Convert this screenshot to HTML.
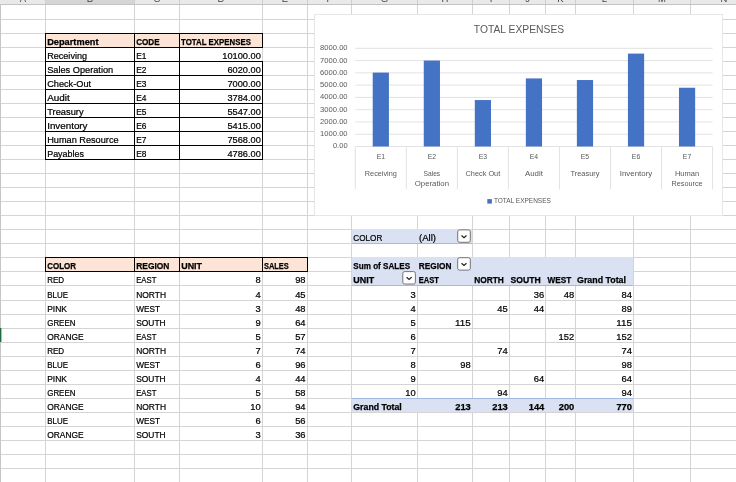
<!DOCTYPE html>
<html lang="en"><head><meta charset="utf-8"><title>Sheet</title>
<style>
html,body{margin:0;padding:0;background:#fff;overflow:hidden}
svg{display:block;font-family:"Liberation Sans",sans-serif}
text{white-space:pre}
</style></head><body>
<svg width="736" height="482" viewBox="0 0 736 482">
<defs><clipPath id="hdrclip"><rect x="0" y="0" width="736" height="4"/></clipPath></defs>
<rect x="0" y="0" width="736" height="482" fill="#fff"/>
<rect x="0" y="19" width="736" height="1" fill="#d4d4d4"/>
<rect x="0" y="33" width="736" height="1" fill="#d4d4d4"/>
<rect x="0" y="47" width="736" height="1" fill="#d4d4d4"/>
<rect x="0" y="61" width="736" height="1" fill="#d4d4d4"/>
<rect x="0" y="75" width="736" height="1" fill="#d4d4d4"/>
<rect x="0" y="89" width="736" height="1" fill="#d4d4d4"/>
<rect x="0" y="103" width="736" height="1" fill="#d4d4d4"/>
<rect x="0" y="117" width="736" height="1" fill="#d4d4d4"/>
<rect x="0" y="131" width="736" height="1" fill="#d4d4d4"/>
<rect x="0" y="145" width="736" height="1" fill="#d4d4d4"/>
<rect x="0" y="159" width="736" height="1" fill="#d4d4d4"/>
<rect x="0" y="173" width="736" height="1" fill="#d4d4d4"/>
<rect x="0" y="187" width="736" height="1" fill="#d4d4d4"/>
<rect x="0" y="201" width="736" height="1" fill="#d4d4d4"/>
<rect x="0" y="215" width="736" height="1" fill="#d4d4d4"/>
<rect x="0" y="229" width="736" height="1" fill="#d4d4d4"/>
<rect x="0" y="243" width="736" height="1" fill="#d4d4d4"/>
<rect x="0" y="257" width="736" height="1" fill="#d4d4d4"/>
<rect x="0" y="271" width="736" height="1" fill="#d4d4d4"/>
<rect x="0" y="285" width="736" height="1" fill="#d4d4d4"/>
<rect x="0" y="300" width="736" height="1" fill="#d4d4d4"/>
<rect x="0" y="314" width="736" height="1" fill="#d4d4d4"/>
<rect x="0" y="328" width="736" height="1" fill="#d4d4d4"/>
<rect x="0" y="342" width="736" height="1" fill="#d4d4d4"/>
<rect x="0" y="356" width="736" height="1" fill="#d4d4d4"/>
<rect x="0" y="370" width="736" height="1" fill="#d4d4d4"/>
<rect x="0" y="384" width="736" height="1" fill="#d4d4d4"/>
<rect x="0" y="398" width="736" height="1" fill="#d4d4d4"/>
<rect x="0" y="412" width="736" height="1" fill="#d4d4d4"/>
<rect x="0" y="426" width="736" height="1" fill="#d4d4d4"/>
<rect x="0" y="440" width="736" height="1" fill="#d4d4d4"/>
<rect x="0" y="454" width="736" height="1" fill="#d4d4d4"/>
<rect x="0" y="468" width="736" height="1" fill="#d4d4d4"/>
<rect x="0" y="482" width="736" height="1" fill="#d4d4d4"/>
<rect x="45" y="4" width="1" height="478" fill="#d4d4d4"/>
<rect x="134" y="4" width="1" height="478" fill="#d4d4d4"/>
<rect x="179" y="4" width="1" height="478" fill="#d4d4d4"/>
<rect x="262" y="4" width="1" height="478" fill="#d4d4d4"/>
<rect x="307" y="4" width="1" height="478" fill="#d4d4d4"/>
<rect x="351" y="4" width="1" height="478" fill="#d4d4d4"/>
<rect x="417" y="4" width="1" height="478" fill="#d4d4d4"/>
<rect x="472" y="4" width="1" height="478" fill="#d4d4d4"/>
<rect x="509" y="4" width="1" height="478" fill="#d4d4d4"/>
<rect x="545" y="4" width="1" height="478" fill="#d4d4d4"/>
<rect x="575" y="4" width="1" height="478" fill="#d4d4d4"/>
<rect x="633" y="4" width="1" height="478" fill="#d4d4d4"/>
<rect x="690" y="4" width="1" height="478" fill="#d4d4d4"/>
<rect x="0" y="0" width="736" height="4" fill="#e9e9e9"/>
<rect x="45" y="0" width="90" height="4" fill="#d5d5d5"/>
<rect x="0" y="4" width="736" height="1" fill="#c4c4c4"/>
<rect x="45" y="0" width="1" height="4" fill="#cfcfcf"/>
<rect x="134" y="0" width="1" height="4" fill="#cfcfcf"/>
<rect x="179" y="0" width="1" height="4" fill="#cfcfcf"/>
<rect x="262" y="0" width="1" height="4" fill="#cfcfcf"/>
<rect x="307" y="0" width="1" height="4" fill="#cfcfcf"/>
<rect x="351" y="0" width="1" height="4" fill="#cfcfcf"/>
<rect x="417" y="0" width="1" height="4" fill="#cfcfcf"/>
<rect x="472" y="0" width="1" height="4" fill="#cfcfcf"/>
<rect x="509" y="0" width="1" height="4" fill="#cfcfcf"/>
<rect x="545" y="0" width="1" height="4" fill="#cfcfcf"/>
<rect x="575" y="0" width="1" height="4" fill="#cfcfcf"/>
<rect x="633" y="0" width="1" height="4" fill="#cfcfcf"/>
<rect x="690" y="0" width="1" height="4" fill="#cfcfcf"/>
<g clip-path="url(#hdrclip)" font-size="9.5" fill="#444">
<text x="23.0" y="2.2" text-anchor="middle">A</text>
<text x="90.0" y="2.2" text-anchor="middle">B</text>
<text x="157.0" y="2.2" text-anchor="middle">C</text>
<text x="221.0" y="2.2" text-anchor="middle">D</text>
<text x="285.0" y="2.2" text-anchor="middle">E</text>
<text x="329.5" y="2.2" text-anchor="middle">F</text>
<text x="384.5" y="2.2" text-anchor="middle">G</text>
<text x="445.0" y="2.2" text-anchor="middle">H</text>
<text x="491.0" y="2.2" text-anchor="middle">I</text>
<text x="527.5" y="2.2" text-anchor="middle">J</text>
<text x="560.5" y="2.2" text-anchor="middle">K</text>
<text x="604.5" y="2.2" text-anchor="middle">L</text>
<text x="662.0" y="2.2" text-anchor="middle">M</text>
<text x="724.0" y="2.2" text-anchor="middle">N</text>
</g>
<rect x="0" y="4" width="1" height="478" fill="#c6c6c6"/>
<rect x="0" y="328" width="1.4" height="14" fill="#1e6b41"/>
<rect x="45" y="33" width="218" height="14" fill="#fce4d6"/>
<rect x="45" y="33" width="218" height="1" fill="#000"/>
<rect x="45" y="47" width="218" height="1" fill="#000"/>
<rect x="45" y="61" width="218" height="1" fill="#000"/>
<rect x="45" y="75" width="218" height="1" fill="#000"/>
<rect x="45" y="89" width="218" height="1" fill="#000"/>
<rect x="45" y="103" width="218" height="1" fill="#000"/>
<rect x="45" y="117" width="218" height="1" fill="#000"/>
<rect x="45" y="131" width="218" height="1" fill="#000"/>
<rect x="45" y="145" width="218" height="1" fill="#000"/>
<rect x="45" y="159" width="218" height="1" fill="#000"/>
<rect x="45" y="33" width="1" height="127" fill="#000"/>
<rect x="134" y="33" width="1" height="127" fill="#000"/>
<rect x="179" y="33" width="1" height="127" fill="#000"/>
<rect x="262" y="33" width="1" height="15" fill="#000"/>
<rect x="262" y="61" width="1" height="99" fill="#000"/>
<text x="47.20" y="44.80" font-size="9.2" font-weight="700" stroke="#000" stroke-width="0.25" fill="#000" textLength="51.30" lengthAdjust="spacingAndGlyphs">Department</text>
<text x="136.20" y="44.80" font-size="9.2" font-weight="700" stroke="#000" stroke-width="0.25" fill="#000" textLength="23.43" lengthAdjust="spacingAndGlyphs">CODE</text>
<text x="181.10" y="44.80" font-size="9.2" font-weight="700" stroke="#000" stroke-width="0.25" fill="#000" textLength="69.80" lengthAdjust="spacingAndGlyphs">TOTAL EXPENSES</text>
<text x="47.20" y="58.80" font-size="9.2" stroke="#000" stroke-width="0.22" fill="#000" textLength="39.84" lengthAdjust="spacingAndGlyphs">Receiving</text>
<text x="136.20" y="58.80" font-size="9.2" stroke="#000" stroke-width="0.22" fill="#000" textLength="10.25" lengthAdjust="spacingAndGlyphs">E1</text>
<text x="222.25" y="58.80" font-size="9.2" stroke="#000" stroke-width="0.22" fill="#000" textLength="38.55" lengthAdjust="spacingAndGlyphs">10100.00</text>
<text x="47.20" y="72.80" font-size="9.2" stroke="#000" stroke-width="0.22" fill="#000" textLength="66.03" lengthAdjust="spacingAndGlyphs">Sales Operation</text>
<text x="136.20" y="72.80" font-size="9.2" stroke="#000" stroke-width="0.22" fill="#000" textLength="10.25" lengthAdjust="spacingAndGlyphs">E2</text>
<text x="227.47" y="72.80" font-size="9.2" stroke="#000" stroke-width="0.22" fill="#000" textLength="33.33" lengthAdjust="spacingAndGlyphs">6020.00</text>
<text x="47.20" y="86.80" font-size="9.2" stroke="#000" stroke-width="0.22" fill="#000" textLength="43.90" lengthAdjust="spacingAndGlyphs">Check-Out</text>
<text x="136.20" y="86.80" font-size="9.2" stroke="#000" stroke-width="0.22" fill="#000" textLength="10.25" lengthAdjust="spacingAndGlyphs">E3</text>
<text x="227.47" y="86.80" font-size="9.2" stroke="#000" stroke-width="0.22" fill="#000" textLength="33.33" lengthAdjust="spacingAndGlyphs">7000.00</text>
<text x="47.20" y="100.80" font-size="9.2" stroke="#000" stroke-width="0.22" fill="#000" textLength="22.59" lengthAdjust="spacingAndGlyphs">Audit</text>
<text x="136.20" y="100.80" font-size="9.2" stroke="#000" stroke-width="0.22" fill="#000" textLength="10.25" lengthAdjust="spacingAndGlyphs">E4</text>
<text x="227.47" y="100.80" font-size="9.2" stroke="#000" stroke-width="0.22" fill="#000" textLength="33.33" lengthAdjust="spacingAndGlyphs">3784.00</text>
<text x="47.20" y="114.80" font-size="9.2" stroke="#000" stroke-width="0.22" fill="#000" textLength="36.37" lengthAdjust="spacingAndGlyphs">Treasury</text>
<text x="136.20" y="114.80" font-size="9.2" stroke="#000" stroke-width="0.22" fill="#000" textLength="10.25" lengthAdjust="spacingAndGlyphs">E5</text>
<text x="227.47" y="114.80" font-size="9.2" stroke="#000" stroke-width="0.22" fill="#000" textLength="33.33" lengthAdjust="spacingAndGlyphs">5547.00</text>
<text x="47.20" y="128.80" font-size="9.2" stroke="#000" stroke-width="0.22" fill="#000" textLength="40.33" lengthAdjust="spacingAndGlyphs">Inventory</text>
<text x="136.20" y="128.80" font-size="9.2" stroke="#000" stroke-width="0.22" fill="#000" textLength="10.25" lengthAdjust="spacingAndGlyphs">E6</text>
<text x="227.47" y="128.80" font-size="9.2" stroke="#000" stroke-width="0.22" fill="#000" textLength="33.33" lengthAdjust="spacingAndGlyphs">5415.00</text>
<text x="47.20" y="142.80" font-size="9.2" stroke="#000" stroke-width="0.22" fill="#000" textLength="71.39" lengthAdjust="spacingAndGlyphs">Human Resource</text>
<text x="136.20" y="142.80" font-size="9.2" stroke="#000" stroke-width="0.22" fill="#000" textLength="10.25" lengthAdjust="spacingAndGlyphs">E7</text>
<text x="227.47" y="142.80" font-size="9.2" stroke="#000" stroke-width="0.22" fill="#000" textLength="33.33" lengthAdjust="spacingAndGlyphs">7568.00</text>
<text x="47.20" y="156.80" font-size="9.2" stroke="#000" stroke-width="0.22" fill="#000" textLength="36.78" lengthAdjust="spacingAndGlyphs">Payables</text>
<text x="136.20" y="156.80" font-size="9.2" stroke="#000" stroke-width="0.22" fill="#000" textLength="10.25" lengthAdjust="spacingAndGlyphs">E8</text>
<text x="227.47" y="156.80" font-size="9.2" stroke="#000" stroke-width="0.22" fill="#000" textLength="33.33" lengthAdjust="spacingAndGlyphs">4786.00</text>
<rect x="45" y="257" width="263" height="14" fill="#fce4d6"/>
<rect x="45" y="257" width="263" height="1" fill="#000"/>
<rect x="45" y="271" width="263" height="1" fill="#000"/>
<rect x="45" y="257" width="1" height="15" fill="#000"/>
<rect x="134" y="257" width="1" height="15" fill="#000"/>
<rect x="179" y="257" width="1" height="15" fill="#000"/>
<rect x="262" y="257" width="1" height="15" fill="#000"/>
<rect x="307" y="257" width="1" height="15" fill="#000"/>
<text x="47.20" y="268.80" font-size="9.2" font-weight="700" stroke="#000" stroke-width="0.25" fill="#000" textLength="28.80" lengthAdjust="spacingAndGlyphs">COLOR</text>
<text x="136.20" y="268.80" font-size="9.2" font-weight="700" stroke="#000" stroke-width="0.25" fill="#000" textLength="33.20" lengthAdjust="spacingAndGlyphs">REGION</text>
<text x="181.20" y="268.80" font-size="9.2" font-weight="700" stroke="#000" stroke-width="0.25" fill="#000" textLength="20.80" lengthAdjust="spacingAndGlyphs">UNIT</text>
<text x="264.00" y="268.80" font-size="9.2" font-weight="700" stroke="#000" stroke-width="0.25" fill="#000" textLength="24.80" lengthAdjust="spacingAndGlyphs">SALES</text>
<text x="47.20" y="282.80" font-size="9.2" stroke="#000" stroke-width="0.22" fill="#000" textLength="17.00" lengthAdjust="spacingAndGlyphs">RED</text>
<text x="136.20" y="282.80" font-size="9.2" stroke="#000" stroke-width="0.22" fill="#000" textLength="20.20" lengthAdjust="spacingAndGlyphs">EAST</text>
<text x="255.58" y="282.80" font-size="9.2" stroke="#000" stroke-width="0.22" fill="#000" textLength="5.22" lengthAdjust="spacingAndGlyphs">8</text>
<text x="295.16" y="282.80" font-size="9.2" stroke="#000" stroke-width="0.22" fill="#000" textLength="10.44" lengthAdjust="spacingAndGlyphs">98</text>
<text x="47.20" y="297.80" font-size="9.2" stroke="#000" stroke-width="0.22" fill="#000" textLength="20.80" lengthAdjust="spacingAndGlyphs">BLUE</text>
<text x="136.20" y="297.80" font-size="9.2" stroke="#000" stroke-width="0.22" fill="#000" textLength="29.80" lengthAdjust="spacingAndGlyphs">NORTH</text>
<text x="255.58" y="297.80" font-size="9.2" stroke="#000" stroke-width="0.22" fill="#000" textLength="5.22" lengthAdjust="spacingAndGlyphs">4</text>
<text x="295.16" y="297.80" font-size="9.2" stroke="#000" stroke-width="0.22" fill="#000" textLength="10.44" lengthAdjust="spacingAndGlyphs">45</text>
<text x="47.20" y="311.80" font-size="9.2" stroke="#000" stroke-width="0.22" fill="#000" textLength="19.80" lengthAdjust="spacingAndGlyphs">PINK</text>
<text x="136.20" y="311.80" font-size="9.2" stroke="#000" stroke-width="0.22" fill="#000" textLength="23.80" lengthAdjust="spacingAndGlyphs">WEST</text>
<text x="255.58" y="311.80" font-size="9.2" stroke="#000" stroke-width="0.22" fill="#000" textLength="5.22" lengthAdjust="spacingAndGlyphs">3</text>
<text x="295.16" y="311.80" font-size="9.2" stroke="#000" stroke-width="0.22" fill="#000" textLength="10.44" lengthAdjust="spacingAndGlyphs">48</text>
<text x="47.20" y="325.80" font-size="9.2" stroke="#000" stroke-width="0.22" fill="#000" textLength="28.30" lengthAdjust="spacingAndGlyphs">GREEN</text>
<text x="136.20" y="325.80" font-size="9.2" stroke="#000" stroke-width="0.22" fill="#000" textLength="29.40" lengthAdjust="spacingAndGlyphs">SOUTH</text>
<text x="255.58" y="325.80" font-size="9.2" stroke="#000" stroke-width="0.22" fill="#000" textLength="5.22" lengthAdjust="spacingAndGlyphs">9</text>
<text x="295.16" y="325.80" font-size="9.2" stroke="#000" stroke-width="0.22" fill="#000" textLength="10.44" lengthAdjust="spacingAndGlyphs">64</text>
<text x="47.20" y="339.80" font-size="9.2" stroke="#000" stroke-width="0.22" fill="#000" textLength="36.55" lengthAdjust="spacingAndGlyphs">ORANGE</text>
<text x="136.20" y="339.80" font-size="9.2" stroke="#000" stroke-width="0.22" fill="#000" textLength="20.20" lengthAdjust="spacingAndGlyphs">EAST</text>
<text x="255.58" y="339.80" font-size="9.2" stroke="#000" stroke-width="0.22" fill="#000" textLength="5.22" lengthAdjust="spacingAndGlyphs">5</text>
<text x="295.16" y="339.80" font-size="9.2" stroke="#000" stroke-width="0.22" fill="#000" textLength="10.44" lengthAdjust="spacingAndGlyphs">57</text>
<text x="47.20" y="353.80" font-size="9.2" stroke="#000" stroke-width="0.22" fill="#000" textLength="17.00" lengthAdjust="spacingAndGlyphs">RED</text>
<text x="136.20" y="353.80" font-size="9.2" stroke="#000" stroke-width="0.22" fill="#000" textLength="29.80" lengthAdjust="spacingAndGlyphs">NORTH</text>
<text x="255.58" y="353.80" font-size="9.2" stroke="#000" stroke-width="0.22" fill="#000" textLength="5.22" lengthAdjust="spacingAndGlyphs">7</text>
<text x="295.16" y="353.80" font-size="9.2" stroke="#000" stroke-width="0.22" fill="#000" textLength="10.44" lengthAdjust="spacingAndGlyphs">74</text>
<text x="47.20" y="367.80" font-size="9.2" stroke="#000" stroke-width="0.22" fill="#000" textLength="20.80" lengthAdjust="spacingAndGlyphs">BLUE</text>
<text x="136.20" y="367.80" font-size="9.2" stroke="#000" stroke-width="0.22" fill="#000" textLength="23.80" lengthAdjust="spacingAndGlyphs">WEST</text>
<text x="255.58" y="367.80" font-size="9.2" stroke="#000" stroke-width="0.22" fill="#000" textLength="5.22" lengthAdjust="spacingAndGlyphs">6</text>
<text x="295.16" y="367.80" font-size="9.2" stroke="#000" stroke-width="0.22" fill="#000" textLength="10.44" lengthAdjust="spacingAndGlyphs">96</text>
<text x="47.20" y="381.80" font-size="9.2" stroke="#000" stroke-width="0.22" fill="#000" textLength="19.80" lengthAdjust="spacingAndGlyphs">PINK</text>
<text x="136.20" y="381.80" font-size="9.2" stroke="#000" stroke-width="0.22" fill="#000" textLength="29.40" lengthAdjust="spacingAndGlyphs">SOUTH</text>
<text x="255.58" y="381.80" font-size="9.2" stroke="#000" stroke-width="0.22" fill="#000" textLength="5.22" lengthAdjust="spacingAndGlyphs">4</text>
<text x="295.16" y="381.80" font-size="9.2" stroke="#000" stroke-width="0.22" fill="#000" textLength="10.44" lengthAdjust="spacingAndGlyphs">44</text>
<text x="47.20" y="395.80" font-size="9.2" stroke="#000" stroke-width="0.22" fill="#000" textLength="28.30" lengthAdjust="spacingAndGlyphs">GREEN</text>
<text x="136.20" y="395.80" font-size="9.2" stroke="#000" stroke-width="0.22" fill="#000" textLength="20.20" lengthAdjust="spacingAndGlyphs">EAST</text>
<text x="255.58" y="395.80" font-size="9.2" stroke="#000" stroke-width="0.22" fill="#000" textLength="5.22" lengthAdjust="spacingAndGlyphs">5</text>
<text x="295.16" y="395.80" font-size="9.2" stroke="#000" stroke-width="0.22" fill="#000" textLength="10.44" lengthAdjust="spacingAndGlyphs">58</text>
<text x="47.20" y="409.80" font-size="9.2" stroke="#000" stroke-width="0.22" fill="#000" textLength="36.55" lengthAdjust="spacingAndGlyphs">ORANGE</text>
<text x="136.20" y="409.80" font-size="9.2" stroke="#000" stroke-width="0.22" fill="#000" textLength="29.80" lengthAdjust="spacingAndGlyphs">NORTH</text>
<text x="250.36" y="409.80" font-size="9.2" stroke="#000" stroke-width="0.22" fill="#000" textLength="10.44" lengthAdjust="spacingAndGlyphs">10</text>
<text x="295.16" y="409.80" font-size="9.2" stroke="#000" stroke-width="0.22" fill="#000" textLength="10.44" lengthAdjust="spacingAndGlyphs">94</text>
<text x="47.20" y="423.80" font-size="9.2" stroke="#000" stroke-width="0.22" fill="#000" textLength="20.80" lengthAdjust="spacingAndGlyphs">BLUE</text>
<text x="136.20" y="423.80" font-size="9.2" stroke="#000" stroke-width="0.22" fill="#000" textLength="23.80" lengthAdjust="spacingAndGlyphs">WEST</text>
<text x="255.58" y="423.80" font-size="9.2" stroke="#000" stroke-width="0.22" fill="#000" textLength="5.22" lengthAdjust="spacingAndGlyphs">6</text>
<text x="295.16" y="423.80" font-size="9.2" stroke="#000" stroke-width="0.22" fill="#000" textLength="10.44" lengthAdjust="spacingAndGlyphs">56</text>
<text x="47.20" y="437.80" font-size="9.2" stroke="#000" stroke-width="0.22" fill="#000" textLength="36.55" lengthAdjust="spacingAndGlyphs">ORANGE</text>
<text x="136.20" y="437.80" font-size="9.2" stroke="#000" stroke-width="0.22" fill="#000" textLength="29.40" lengthAdjust="spacingAndGlyphs">SOUTH</text>
<text x="255.58" y="437.80" font-size="9.2" stroke="#000" stroke-width="0.22" fill="#000" textLength="5.22" lengthAdjust="spacingAndGlyphs">3</text>
<text x="295.16" y="437.80" font-size="9.2" stroke="#000" stroke-width="0.22" fill="#000" textLength="10.44" lengthAdjust="spacingAndGlyphs">36</text>
<rect x="352" y="229" width="120" height="14" fill="#d9e1f2"/>
<rect x="352" y="243" width="120" height="1" fill="#a3b9e2"/>
<rect x="352" y="257" width="281" height="28" fill="#d9e1f2"/>
<rect x="352" y="285" width="281" height="1" fill="#a3b9e2"/>
<rect x="352" y="399" width="281" height="13" fill="#d9e1f2"/>
<rect x="352" y="398" width="281" height="1" fill="#a3b9e2"/>
<text x="353.30" y="240.80" font-size="9.2" stroke="#000" stroke-width="0.22" fill="#000" textLength="29.00" lengthAdjust="spacingAndGlyphs">COLOR</text>
<text x="419.00" y="240.80" font-size="9.2" stroke="#000" stroke-width="0.22" fill="#000" textLength="17.00" lengthAdjust="spacingAndGlyphs">(All)</text>
<rect x="457.7" y="229.9" width="12.6" height="12.4" rx="1.8" fill="#fff" stroke="#666" stroke-width="0.9"/>
<path d="M461.5 235.5 l2.5 2.2 l2.5 -2.2" fill="none" stroke="#222" stroke-width="1.25"/>
<text x="353.30" y="268.80" font-size="9.2" font-weight="700" stroke="#000" stroke-width="0.25" fill="#000" textLength="56.80" lengthAdjust="spacingAndGlyphs">Sum of SALES</text>
<text x="418.80" y="268.80" font-size="9.2" font-weight="700" stroke="#000" stroke-width="0.25" fill="#000" textLength="32.60" lengthAdjust="spacingAndGlyphs">REGION</text>
<rect x="457.7" y="257.7" width="12.6" height="12.4" rx="1.8" fill="#fff" stroke="#666" stroke-width="0.9"/>
<path d="M461.5 263.3 l2.5 2.2 l2.5 -2.2" fill="none" stroke="#222" stroke-width="1.25"/>
<text x="353.30" y="282.80" font-size="9.2" font-weight="700" stroke="#000" stroke-width="0.25" fill="#000" textLength="20.80" lengthAdjust="spacingAndGlyphs">UNIT</text>
<rect x="402.8" y="271.6" width="12.6" height="12.4" rx="1.8" fill="#fff" stroke="#666" stroke-width="0.9"/>
<path d="M406.6 277.20000000000005 l2.5 2.2 l2.5 -2.2" fill="none" stroke="#222" stroke-width="1.25"/>
<text x="418.80" y="282.80" font-size="9.2" font-weight="700" stroke="#000" stroke-width="0.25" fill="#000" textLength="20.20" lengthAdjust="spacingAndGlyphs">EAST</text>
<text x="474.20" y="282.80" font-size="9.2" font-weight="700" stroke="#000" stroke-width="0.25" fill="#000" textLength="29.70" lengthAdjust="spacingAndGlyphs">NORTH</text>
<text x="510.50" y="282.80" font-size="9.2" font-weight="700" stroke="#000" stroke-width="0.25" fill="#000" textLength="30.10" lengthAdjust="spacingAndGlyphs">SOUTH</text>
<text x="547.50" y="282.80" font-size="9.2" font-weight="700" stroke="#000" stroke-width="0.25" fill="#000" textLength="23.70" lengthAdjust="spacingAndGlyphs">WEST</text>
<text x="577.00" y="282.80" font-size="9.2" font-weight="700" stroke="#000" stroke-width="0.25" fill="#000" textLength="49.00" lengthAdjust="spacingAndGlyphs">Grand Total</text>
<text x="410.58" y="297.80" font-size="9.2" stroke="#000" stroke-width="0.22" fill="#000" textLength="5.22" lengthAdjust="spacingAndGlyphs">3</text>
<text x="533.86" y="297.80" font-size="9.2" stroke="#000" stroke-width="0.22" fill="#000" textLength="10.44" lengthAdjust="spacingAndGlyphs">36</text>
<text x="563.86" y="297.80" font-size="9.2" stroke="#000" stroke-width="0.22" fill="#000" textLength="10.44" lengthAdjust="spacingAndGlyphs">48</text>
<text x="621.56" y="297.80" font-size="9.2" stroke="#000" stroke-width="0.22" fill="#000" textLength="10.44" lengthAdjust="spacingAndGlyphs">84</text>
<text x="410.58" y="311.80" font-size="9.2" stroke="#000" stroke-width="0.22" fill="#000" textLength="5.22" lengthAdjust="spacingAndGlyphs">4</text>
<text x="497.36" y="311.80" font-size="9.2" stroke="#000" stroke-width="0.22" fill="#000" textLength="10.44" lengthAdjust="spacingAndGlyphs">45</text>
<text x="533.86" y="311.80" font-size="9.2" stroke="#000" stroke-width="0.22" fill="#000" textLength="10.44" lengthAdjust="spacingAndGlyphs">44</text>
<text x="621.56" y="311.80" font-size="9.2" stroke="#000" stroke-width="0.22" fill="#000" textLength="10.44" lengthAdjust="spacingAndGlyphs">89</text>
<text x="410.58" y="325.80" font-size="9.2" stroke="#000" stroke-width="0.22" fill="#000" textLength="5.22" lengthAdjust="spacingAndGlyphs">5</text>
<text x="455.13" y="325.80" font-size="9.2" stroke="#000" stroke-width="0.22" fill="#000" textLength="15.67" lengthAdjust="spacingAndGlyphs">115</text>
<text x="616.33" y="325.80" font-size="9.2" stroke="#000" stroke-width="0.22" fill="#000" textLength="15.67" lengthAdjust="spacingAndGlyphs">115</text>
<text x="410.58" y="339.80" font-size="9.2" stroke="#000" stroke-width="0.22" fill="#000" textLength="5.22" lengthAdjust="spacingAndGlyphs">6</text>
<text x="558.63" y="339.80" font-size="9.2" stroke="#000" stroke-width="0.22" fill="#000" textLength="15.67" lengthAdjust="spacingAndGlyphs">152</text>
<text x="616.33" y="339.80" font-size="9.2" stroke="#000" stroke-width="0.22" fill="#000" textLength="15.67" lengthAdjust="spacingAndGlyphs">152</text>
<text x="410.58" y="353.80" font-size="9.2" stroke="#000" stroke-width="0.22" fill="#000" textLength="5.22" lengthAdjust="spacingAndGlyphs">7</text>
<text x="497.36" y="353.80" font-size="9.2" stroke="#000" stroke-width="0.22" fill="#000" textLength="10.44" lengthAdjust="spacingAndGlyphs">74</text>
<text x="621.56" y="353.80" font-size="9.2" stroke="#000" stroke-width="0.22" fill="#000" textLength="10.44" lengthAdjust="spacingAndGlyphs">74</text>
<text x="410.58" y="367.80" font-size="9.2" stroke="#000" stroke-width="0.22" fill="#000" textLength="5.22" lengthAdjust="spacingAndGlyphs">8</text>
<text x="460.36" y="367.80" font-size="9.2" stroke="#000" stroke-width="0.22" fill="#000" textLength="10.44" lengthAdjust="spacingAndGlyphs">98</text>
<text x="621.56" y="367.80" font-size="9.2" stroke="#000" stroke-width="0.22" fill="#000" textLength="10.44" lengthAdjust="spacingAndGlyphs">98</text>
<text x="410.58" y="381.80" font-size="9.2" stroke="#000" stroke-width="0.22" fill="#000" textLength="5.22" lengthAdjust="spacingAndGlyphs">9</text>
<text x="533.86" y="381.80" font-size="9.2" stroke="#000" stroke-width="0.22" fill="#000" textLength="10.44" lengthAdjust="spacingAndGlyphs">64</text>
<text x="621.56" y="381.80" font-size="9.2" stroke="#000" stroke-width="0.22" fill="#000" textLength="10.44" lengthAdjust="spacingAndGlyphs">64</text>
<text x="405.36" y="395.80" font-size="9.2" stroke="#000" stroke-width="0.22" fill="#000" textLength="10.44" lengthAdjust="spacingAndGlyphs">10</text>
<text x="497.36" y="395.80" font-size="9.2" stroke="#000" stroke-width="0.22" fill="#000" textLength="10.44" lengthAdjust="spacingAndGlyphs">94</text>
<text x="621.56" y="395.80" font-size="9.2" stroke="#000" stroke-width="0.22" fill="#000" textLength="10.44" lengthAdjust="spacingAndGlyphs">94</text>
<text x="353.30" y="409.80" font-size="9.2" font-weight="700" stroke="#000" stroke-width="0.25" fill="#000" textLength="48.50" lengthAdjust="spacingAndGlyphs">Grand Total</text>
<text x="455.20" y="409.80" font-size="9.2" font-weight="700" stroke="#000" stroke-width="0.25" fill="#000" textLength="15.60" lengthAdjust="spacingAndGlyphs">213</text>
<text x="492.20" y="409.80" font-size="9.2" font-weight="700" stroke="#000" stroke-width="0.25" fill="#000" textLength="15.60" lengthAdjust="spacingAndGlyphs">213</text>
<text x="528.70" y="409.80" font-size="9.2" font-weight="700" stroke="#000" stroke-width="0.25" fill="#000" textLength="15.60" lengthAdjust="spacingAndGlyphs">144</text>
<text x="558.70" y="409.80" font-size="9.2" font-weight="700" stroke="#000" stroke-width="0.25" fill="#000" textLength="15.60" lengthAdjust="spacingAndGlyphs">200</text>
<text x="616.40" y="409.80" font-size="9.2" font-weight="700" stroke="#000" stroke-width="0.25" fill="#000" textLength="15.60" lengthAdjust="spacingAndGlyphs">770</text>
<rect x="314.5" y="14.5" width="408" height="201" fill="#fff" stroke="#e6e6e6" stroke-width="1"/>
<rect x="355.3" y="146" width="357.3" height="1" fill="#e2e2e2"/>
<text x="332.95" y="147.90" font-size="7.3" stroke="#595959" stroke-width="0" fill="#595959" textLength="14.65" lengthAdjust="spacingAndGlyphs">0.00</text>
<rect x="355.3" y="133.725" width="357.3" height="1" fill="#e2e2e2"/>
<text x="320.13" y="136.22" font-size="7.3" stroke="#595959" stroke-width="0" fill="#595959" textLength="27.47" lengthAdjust="spacingAndGlyphs">1000.00</text>
<rect x="355.3" y="121.45" width="357.3" height="1" fill="#e2e2e2"/>
<text x="320.13" y="123.95" font-size="7.3" stroke="#595959" stroke-width="0" fill="#595959" textLength="27.47" lengthAdjust="spacingAndGlyphs">2000.00</text>
<rect x="355.3" y="109.175" width="357.3" height="1" fill="#e2e2e2"/>
<text x="320.13" y="111.67" font-size="7.3" stroke="#595959" stroke-width="0" fill="#595959" textLength="27.47" lengthAdjust="spacingAndGlyphs">3000.00</text>
<rect x="355.3" y="96.9" width="357.3" height="1" fill="#e2e2e2"/>
<text x="320.13" y="99.40" font-size="7.3" stroke="#595959" stroke-width="0" fill="#595959" textLength="27.47" lengthAdjust="spacingAndGlyphs">4000.00</text>
<rect x="355.3" y="84.625" width="357.3" height="1" fill="#e2e2e2"/>
<text x="320.13" y="87.12" font-size="7.3" stroke="#595959" stroke-width="0" fill="#595959" textLength="27.47" lengthAdjust="spacingAndGlyphs">5000.00</text>
<rect x="355.3" y="72.35" width="357.3" height="1" fill="#e2e2e2"/>
<text x="320.13" y="74.85" font-size="7.3" stroke="#595959" stroke-width="0" fill="#595959" textLength="27.47" lengthAdjust="spacingAndGlyphs">6000.00</text>
<rect x="355.3" y="60.075" width="357.3" height="1" fill="#e2e2e2"/>
<text x="320.13" y="62.58" font-size="7.3" stroke="#595959" stroke-width="0" fill="#595959" textLength="27.47" lengthAdjust="spacingAndGlyphs">7000.00</text>
<rect x="355.3" y="47.8" width="357.3" height="1" fill="#e2e2e2"/>
<text x="320.13" y="50.30" font-size="7.3" stroke="#595959" stroke-width="0" fill="#595959" textLength="27.47" lengthAdjust="spacingAndGlyphs">8000.00</text>
<rect x="354.8" y="146.5" width="1" height="42.8" fill="#e2e2e2"/>
<rect x="405.84" y="146.5" width="1" height="42.8" fill="#e2e2e2"/>
<rect x="456.88" y="146.5" width="1" height="42.8" fill="#e2e2e2"/>
<rect x="507.92" y="146.5" width="1" height="42.8" fill="#e2e2e2"/>
<rect x="558.96" y="146.5" width="1" height="42.8" fill="#e2e2e2"/>
<rect x="610" y="146.5" width="1" height="42.8" fill="#e2e2e2"/>
<rect x="661.04" y="146.5" width="1" height="42.8" fill="#e2e2e2"/>
<rect x="712.08" y="146.5" width="1" height="42.8" fill="#e2e2e2"/>
<rect x="372.72" y="72.6045" width="16.2" height="73.8955" fill="#4472c4"/>
<text x="376.63" y="158.70" font-size="7.3" stroke="#595959" stroke-width="0" fill="#595959" textLength="8.39" lengthAdjust="spacingAndGlyphs">E1</text>
<text x="364.82" y="175.80" font-size="7.3" stroke="#595959" stroke-width="0" fill="#595959" textLength="32.01" lengthAdjust="spacingAndGlyphs">Receiving</text>
<rect x="423.76" y="60.575" width="16.2" height="85.925" fill="#4472c4"/>
<text x="427.67" y="158.70" font-size="7.3" stroke="#595959" stroke-width="0" fill="#595959" textLength="8.39" lengthAdjust="spacingAndGlyphs">E2</text>
<text x="423.49" y="175.80" font-size="7.3" stroke="#595959" stroke-width="0" fill="#595959" textLength="16.73" lengthAdjust="spacingAndGlyphs">Sales</text>
<text x="414.76" y="185.60" font-size="7.3" stroke="#595959" stroke-width="0" fill="#595959" textLength="34.21" lengthAdjust="spacingAndGlyphs">Operation</text>
<rect x="474.8" y="100.051" width="16.2" height="46.4486" fill="#4472c4"/>
<text x="478.71" y="158.70" font-size="7.3" stroke="#595959" stroke-width="0" fill="#595959" textLength="8.39" lengthAdjust="spacingAndGlyphs">E3</text>
<text x="465.57" y="175.80" font-size="7.3" stroke="#595959" stroke-width="0" fill="#595959" textLength="34.65" lengthAdjust="spacingAndGlyphs">Check Out</text>
<rect x="525.84" y="78.4106" width="16.2" height="68.0894" fill="#4472c4"/>
<text x="529.75" y="158.70" font-size="7.3" stroke="#595959" stroke-width="0" fill="#595959" textLength="8.39" lengthAdjust="spacingAndGlyphs">E4</text>
<text x="525.00" y="175.80" font-size="7.3" stroke="#595959" stroke-width="0" fill="#595959" textLength="17.89" lengthAdjust="spacingAndGlyphs">Audit</text>
<rect x="576.88" y="80.0309" width="16.2" height="66.4691" fill="#4472c4"/>
<text x="580.79" y="158.70" font-size="7.3" stroke="#595959" stroke-width="0" fill="#595959" textLength="8.39" lengthAdjust="spacingAndGlyphs">E5</text>
<text x="570.40" y="175.80" font-size="7.3" stroke="#595959" stroke-width="0" fill="#595959" textLength="29.17" lengthAdjust="spacingAndGlyphs">Treasury</text>
<rect x="627.92" y="53.6028" width="16.2" height="92.8972" fill="#4472c4"/>
<text x="631.83" y="158.70" font-size="7.3" stroke="#595959" stroke-width="0" fill="#595959" textLength="8.39" lengthAdjust="spacingAndGlyphs">E6</text>
<text x="619.81" y="175.80" font-size="7.3" stroke="#595959" stroke-width="0" fill="#595959" textLength="32.41" lengthAdjust="spacingAndGlyphs">Inventory</text>
<rect x="678.96" y="87.7518" width="16.2" height="58.7482" fill="#4472c4"/>
<text x="682.87" y="158.70" font-size="7.3" stroke="#595959" stroke-width="0" fill="#595959" textLength="8.39" lengthAdjust="spacingAndGlyphs">E7</text>
<text x="674.92" y="175.80" font-size="7.3" stroke="#595959" stroke-width="0" fill="#595959" textLength="24.28" lengthAdjust="spacingAndGlyphs">Human</text>
<text x="671.54" y="185.60" font-size="7.3" stroke="#595959" stroke-width="0" fill="#595959" textLength="31.05" lengthAdjust="spacingAndGlyphs">Resource</text>
<text x="473.80" y="32.90" font-size="11.8" stroke="#595959" stroke-width="0" fill="#595959" textLength="90.40" lengthAdjust="spacingAndGlyphs">TOTAL EXPENSES</text>
<rect x="487.3" y="199.1" width="4.6" height="4.5" fill="#4472c4"/>
<text x="493.90" y="202.80" font-size="7.3" stroke="#595959" stroke-width="0" fill="#595959" textLength="57.00" lengthAdjust="spacingAndGlyphs">TOTAL EXPENSES</text>
</svg>
</body></html>
